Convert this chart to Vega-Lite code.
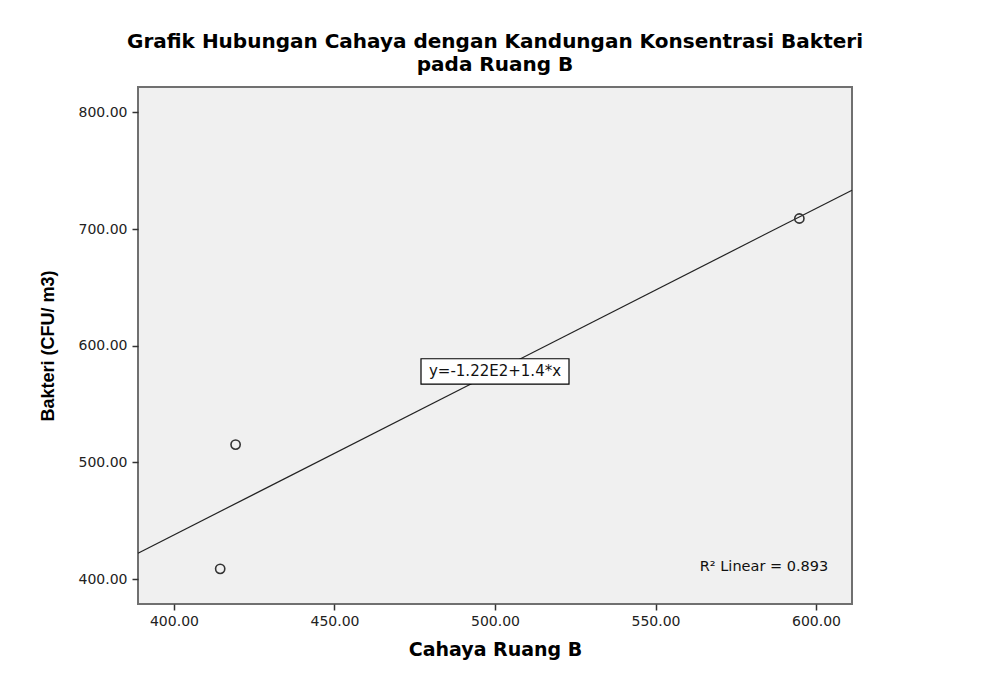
{
  "$schema": "https://vega.github.io/schema/vega-lite/v6.json",
  "width": 714,
  "height": 517,
  "autosize": "none",
  "padding": {"left": 138, "top": 87, "right": 129, "bottom": 78},
  "background": "white",
  "title": {
    "text": ["Grafik Hubungan Cahaya dengan Kandungan Konsentrasi Bakteri", "pada Ruang B"],
    "font": "DejaVu Sans",
    "fontSize": 20,
    "fontWeight": "bold",
    "lineHeight": 23,
    "color": "#000000",
    "anchor": "middle",
    "offset": 12
  },
  "config": {
    "view": {"fill": "#f0f0f0", "stroke": "#707070", "strokeWidth": 2},
    "axis": {
      "domain": false,
      "grid": false,
      "labelFont": "DejaVu Sans",
      "labelFontSize": 14,
      "labelFontWeight": "normal",
      "labelColor": "#222222",
      "tickColor": "#333333",
      "tickSize": 6,
      "tickWidth": 1.5,
      "titleFontWeight": "bold",
      "titleColor": "#000000"
    }
  },
  "layer": [
    {
      "data": {
        "values": [
          {"cahaya": 414.4, "bakteri": 408.8},
          {"cahaya": 419.2, "bakteri": 515.3},
          {"cahaya": 594.8, "bakteri": 709.0}
        ]
      },
      "layer": [
        {
          "transform": [{"regression": "bakteri", "on": "cahaya", "extent": [388.8, 611.2]}],
          "mark": {"type": "line", "color": "#222222", "strokeWidth": 1.2},
          "encoding": {
            "x": {
              "field": "cahaya",
              "type": "quantitative",
              "scale": {"domain": [388.8, 611.2], "nice": false, "zero": false},
              "axis": {"values": [400, 450, 500, 550, 600], "format": ".2f", "title": "Cahaya Ruang B", "titleFont": "DejaVu Sans", "titleFontSize": 19, "labelPadding": 4, "titlePadding": 12}
            },
            "y": {
              "field": "bakteri",
              "type": "quantitative",
              "scale": {"domain": [378.7, 821.7], "nice": false, "zero": false},
              "axis": {"values": [400, 500, 600, 700, 800], "format": ".2f", "title": "Bakteri (CFU/ m3)", "titleFont": "Liberation Sans", "titleFontSize": 18, "labelPadding": 5, "titlePadding": 21}
            }
          }
        },
        {
          "mark": {"type": "point", "shape": "circle", "filled": false, "color": "#333333", "strokeWidth": 1.6, "size": 85, "opacity": 1},
          "encoding": {
            "x": {"field": "cahaya", "type": "quantitative"},
            "y": {"field": "bakteri", "type": "quantitative"}
          }
        }
      ]
    },
    {
      "data": {"values": [{"label": "y=-1.22E2+1.4*x"}]},
      "layer": [
        {
          "mark": {"type": "point", "shape": "M-1,-0.171H1V0.171H-1Z", "size": 21904, "filled": true, "fill": "white", "stroke": "black", "strokeWidth": 1.2, "opacity": 1},
          "encoding": {"x": {"datum": 500}, "y": {"datum": 578}}
        },
        {
          "mark": {"type": "text", "font": "DejaVu Sans", "fontSize": 15, "fontWeight": "normal", "color": "#111111", "align": "center", "baseline": "middle"},
          "encoding": {"x": {"datum": 500}, "y": {"datum": 578}, "text": {"field": "label"}}
        }
      ]
    },
    {
      "data": {"values": [{"label": "R² Linear = 0.893"}]},
      "mark": {"type": "text", "font": "DejaVu Sans", "fontSize": 14.5, "fontWeight": "normal", "color": "#111111", "align": "right", "baseline": "middle"},
      "encoding": {"x": {"datum": 603.8}, "y": {"datum": 410}, "text": {"field": "label"}}
    }
  ]
}
